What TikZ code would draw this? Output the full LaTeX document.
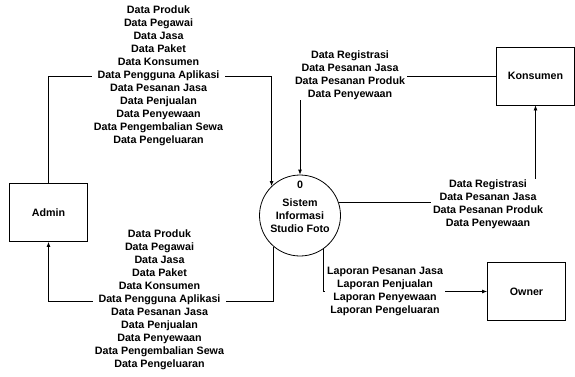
\documentclass[tikz,border=0pt]{standalone}
\usepackage{fontspec}
\setmainfont{Liberation Sans}
\usetikzlibrary{arrows.meta}
\begin{document}
\begin{tikzpicture}[x=1bp,y=-1bp,
  every node/.style={font=\fontsize{10.7bp}{13bp}\selectfont\bfseries},
  entity/.style={draw, line width=0.8bp, minimum width=78bp, minimum height=58bp, inner sep=0},
  process/.style={draw, circle, line width=0.8bp, minimum size=81bp, inner sep=0},
  flow/.style={draw, line width=0.8bp, -{Latex[length=5bp,width=4bp]}},
  flowlabel/.style={fill=white, align=center, inner xsep=2bp, inner ysep=1bp}]
\useasboundingbox (0,0) rectangle (575,376);

% external entities and the process
\node[entity] (admin) at (48.5,212.5) {Admin};
\node[entity] (konsumen) at (535.5,76) {Konsumen};
\node[entity] (owner) at (526.5,291.5) {Owner};
\node[process] (sys) at (300,215.5) {};
\node[align=center] (systext) at (300,206.5) {0\\[5bp]Sistem\\Informasi\\Studio Foto};

% data flows
\coordinate (lowbend) at (0,301);
\draw[flow] (admin.north) |- (sys.134 |- konsumen.west) -- (sys.134);
\draw[flow] (sys.230) |- (admin.south |- lowbend) -- (admin.south);
\draw[flow] (konsumen.west) -| (sys.north);
\draw[flow] (sys.18) -| (konsumen.south);
\draw[flow] (sys.305) |- (owner.west);

% flow labels
\node[flowlabel] (ladmin) at (158.5,76) {Data Produk\\Data Pegawai\\Data Jasa\\Data Paket\\Data Konsumen\\Data Pengguna Aplikasi\\Data Pesanan Jasa\\Data Penjualan\\Data Penyewaan\\Data Pengembalian Sewa\\Data Pengeluaran};
\node[flowlabel] (lsys) at (159.5,300) {Data Produk\\Data Pegawai\\Data Jasa\\Data Paket\\Data Konsumen\\Data Pengguna Aplikasi\\Data Pesanan Jasa\\Data Penjualan\\Data Penyewaan\\Data Pengembalian Sewa\\Data Pengeluaran};
\node[flowlabel] (lkons) at (350,75) {Data Registrasi\\Data Pesanan Jasa\\Data Pesanan Produk\\Data Penyewaan};
\node[flowlabel] (lkons2) at (488,204) {Data Registrasi\\Data Pesanan Jasa\\Data Pesanan Produk\\Data Penyewaan};
\node[flowlabel] (lowner) at (385,291) {Laporan Pesanan Jasa\\Laporan Penjualan\\Laporan Penyewaan\\Laporan Pengeluaran};
\end{tikzpicture}
\end{document}
